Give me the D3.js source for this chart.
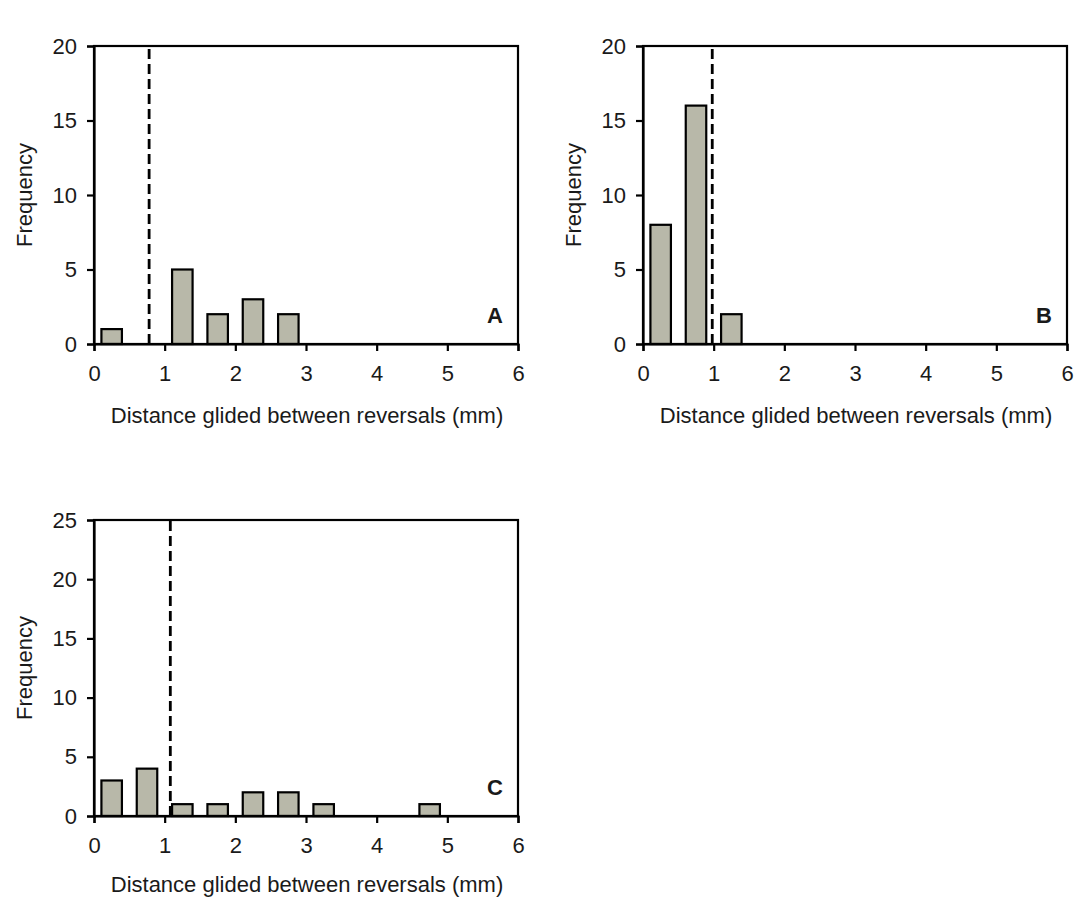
<!DOCTYPE html>
<html>
<head>
<meta charset="utf-8">
<script src="https://cdn.jsdelivr.net/npm/d3@7"></script>
<style>
  html, body { margin: 0; padding: 0; background: #ffffff; }
  svg { display: block; }
  text { font-family: "Liberation Sans", Arial, sans-serif; fill: #1a1a1a; }
</style>
</head>
<body>
<svg id="chart" width="1091" height="898"></svg>
<script>
// Histogram bins (mm): centre of each 0.5 mm bin
const binCenters = [0.25, 0.75, 1.25, 1.75, 2.25, 2.75, 3.25, 3.75, 4.25, 4.75, 5.25, 5.75];
// Frequencies per bin for each condition
const countsA = [1, 0, 5, 2, 3, 2, 0, 0, 0, 0, 0, 0];
const countsB = [8, 16, 2, 0, 0, 0, 0, 0, 0, 0, 0, 0];
const countsC = [3, 4, 1, 1, 2, 2, 1, 0, 0, 1, 0, 0];
// Threshold distance (dashed line) for each condition
const thresholdA = 0.78;
const thresholdB = 0.98;
const thresholdC = 1.08;
// Axis ticks
const xTicks = [0, 1, 2, 3, 4, 5, 6];
const yTicksAB = [0, 5, 10, 15, 20];
const yTicksC = [0, 5, 10, 15, 20, 25];
const panelLetters = ["A", "B", "C"];
const xAxisTitle = "Distance glided between reversals (mm)";
const yAxisTitle = "Frequency";

const binWidth = 0.29;
const fontSize = 22;
const svgHeight = 898;

const panels = [
  { letter: panelLetters[0], counts: countsA, threshold: thresholdA, yTicks: yTicksAB,
    left: 94, right: 518, top: 46, bottom: 344 },
  { letter: panelLetters[1], counts: countsB, threshold: thresholdB, yTicks: yTicksAB,
    left: 643, right: 1067, top: 46, bottom: 344 },
  { letter: panelLetters[2], counts: countsC, threshold: thresholdC, yTicks: yTicksC,
    left: 94, right: 518, top: 520, bottom: 816 }
];

const svg = d3.select("#chart");

panels.forEach(p => {
  const g = svg.append("g");
  const x = d3.scaleLinear().domain([0, 6]).range([p.left, p.right]);
  const y = d3.scaleLinear().domain([0, d3.max(p.yTicks)]).range([p.bottom, p.top]);

  const bins = binCenters.map((c, i) => ({ c, n: p.counts[i] })).filter(d => d.n > 0);

  // bars
  g.selectAll("rect.bar").data(bins).join("rect")
    .attr("class", "bar")
    .attr("x", d => x(d.c - binWidth / 2))
    .attr("width", d => x(d.c + binWidth / 2) - x(d.c - binWidth / 2))
    .attr("y", d => y(d.n))
    .attr("height", d => y(0) - y(d.n))
    .attr("fill", "#b8b8a9")
    .attr("stroke", "#000")
    .attr("stroke-width", 2.2);

  // threshold line
  g.append("line")
    .attr("x1", x(p.threshold)).attr("x2", x(p.threshold))
    .attr("y1", y(0)).attr("y2", y(d3.max(p.yTicks)))
    .attr("stroke", "#000")
    .attr("stroke-width", 2.8)
    .attr("stroke-dasharray", "10,5");

  // frame
  g.append("rect")
    .attr("x", p.left).attr("y", p.top)
    .attr("width", p.right - p.left).attr("height", p.bottom - p.top)
    .attr("fill", "none").attr("stroke", "#000").attr("stroke-width", 2.2);

  // axes
  const xAxis = g.append("g")
    .attr("transform", `translate(0,${p.bottom})`)
    .call(d3.axisBottom(x).tickValues(xTicks).tickFormat(d3.format("d")).tickSize(7).tickPadding(14));
  const yAxis = g.append("g")
    .attr("transform", `translate(${p.left},0)`)
    .call(d3.axisLeft(y).tickValues(p.yTicks).tickFormat(d3.format("d")).tickSize(7).tickPadding(10));
  [xAxis, yAxis].forEach(a => {
    a.select(".domain").attr("stroke", "#000").attr("stroke-width", 2.2);
    a.selectAll(".tick line").attr("stroke", "#000").attr("stroke-width", 2.2);
    a.selectAll(".tick text").style("font-size", fontSize + "px")
      .style("font-family", "'Liberation Sans', Arial, sans-serif").attr("fill", "#1a1a1a");
  });

  // axis titles (kept clear of the bottom edge)
  g.append("text")
    .attr("x", (p.left + p.right) / 2 + 1)
    .attr("y", Math.min(p.bottom + 79, svgHeight - 6))
    .attr("text-anchor", "middle")
    .style("font-size", fontSize + "px")
    .text(xAxisTitle);

  g.append("text")
    .attr("transform", `translate(${p.left - 62},${(p.top + p.bottom) / 2}) rotate(-90)`)
    .attr("text-anchor", "middle")
    .style("font-size", fontSize + "px")
    .text(yAxisTitle);

  // panel letter
  g.append("text")
    .attr("x", p.right - 15)
    .attr("y", p.bottom - 21)
    .attr("text-anchor", "end")
    .style("font-size", "22px")
    .style("font-weight", "bold")
    .text(p.letter);
});
</script>
</body>
</html>
